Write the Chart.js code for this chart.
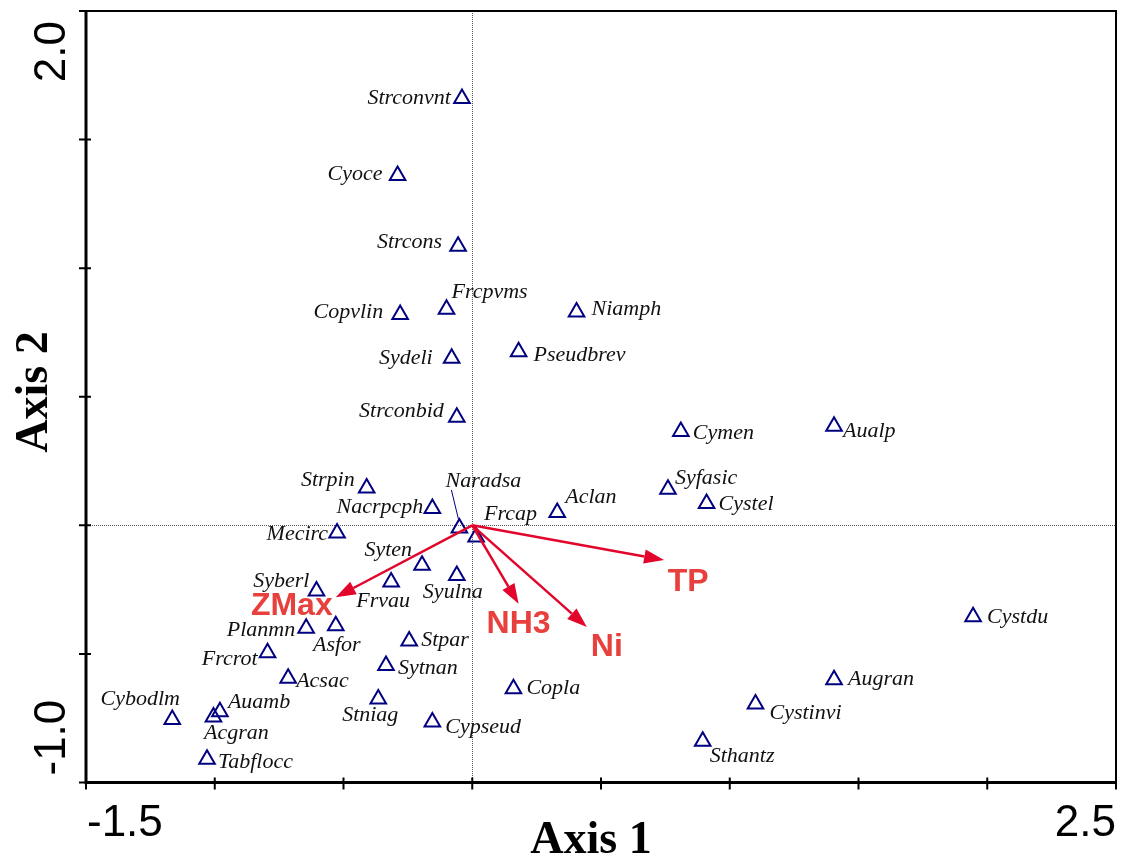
<!DOCTYPE html>
<html>
<head>
<meta charset="utf-8">
<script src="https://cdn.jsdelivr.net/npm/chart.js@4.4.0/dist/chart.umd.min.js"></script>
<style>
  html, body { margin: 0; padding: 0; background: #fff; }
</style>
</head>
<body>
<canvas id="cca" width="1127" height="860"></canvas>
<script>
// species scores
const species = ['Strconvnt', 'Cyoce', 'Strcons', 'Frcpvms', 'Copvlin', 'Niamph', 'Sydeli', 'Pseudbrev',
  'Strconbid', 'Cymen', 'Aualp', 'Syfasic', 'Cystel', 'Aclan', 'Strpin', 'Nacrpcph', 'Mecirc', 'Naradsa',
  'Frcap', 'Syten', 'Frvau', 'Syulna', 'Syberl', 'Planmn', 'Asfor', 'Stpar', 'Frcrot', 'Sytnan', 'Acsac',
  'Stniag', 'Cybodlm', 'Auamb', 'Acgran', 'Tabflocc', 'Cypseud', 'Copla', 'Cystdu', 'Augran', 'Cystinvi', 'Sthantz'];
const axis1 = [-0.04, -0.29, -0.055, -0.10, -0.28, 0.405, -0.08, 0.18,
  -0.06, 0.81, 1.405, 0.76, 0.91, 0.33, -0.41, -0.155, -0.525, -0.05,
  0.015, -0.195, -0.315, -0.06, -0.605, -0.645, -0.53, -0.245, -0.795, -0.335, -0.715,
  -0.365, -1.165, -0.98, -1.005, -1.03, -0.155, 0.16, 1.945, 1.405, 1.10, 0.895];
const axis2 = [1.66, 1.36, 1.085, 0.84, 0.82, 0.83, 0.65, 0.675,
  0.42, 0.365, 0.385, 0.14, 0.085, 0.05, 0.145, 0.065, -0.03, -0.01,
  -0.045, -0.155, -0.22, -0.195, -0.255, -0.40, -0.39, -0.45, -0.495, -0.545, -0.595,
  -0.675, -0.755, -0.725, -0.745, -0.91, -0.765, -0.635, -0.355, -0.60, -0.695, -0.84];

// environmental vectors
const envVars = ['ZMax', 'TP', 'NH3', 'Ni'];
const env1 = [-0.53, 0.745, 0.18, 0.445];
const env2 = [-0.28, -0.135, -0.305, -0.395];

const xTickLabels = ['-1.5', '2.5'];
const yTickLabels = ['2.0', '-1.0'];

// label placement next to each triangle: [align, dx, dy] in pixels
const labelPlace = [
  ['right', -11, 0], ['right', -15, -1], ['right', -16, -4], ['left', 5, -17], ['right', -17, -2],
  ['left', 15, -3], ['right', -19, 0], ['left', 15, 3], ['right', -13, -6], ['left', 12, 2],
  ['left', 9, 5], ['left', 7, -11], ['left', 12, 1], ['left', 8, -15], ['right', -12, -8],
  ['right', -9, -1], ['right', -9, 1], ['center', 24, -47], ['left', 8, -23], ['right', -10, -15],
  ['center', -8, 19], ['center', -4, 17], ['right', -7, -10], ['right', -11, 2], ['center', 1, 20],
  ['left', 12, -1], ['right', -10, 7], ['left', 12, 3], ['left', 8, 3], ['center', -8, 16],
  ['center', -32, -20], ['left', 8, -10], ['center', 23, 16], ['left', 11, 3], ['left', 13, 5],
  ['left', 13, 0], ['left', 14, 1], ['left', 14, 0], ['left', 14, 9], ['left', 7, 15]
];
const envLabelPlace = [[-44, 9], [24, 22], [0, 20], [20, 20]];

const ARROW = '#e2062c';
const ENV_TEXT = '#e8403d';

const ordination = {
  id: 'ordination',
  beforeDatasetsDraw(chart) {
    const { ctx, chartArea: a, scales: { x, y } } = chart;
    const x0 = Math.round(x.getPixelForValue(0)) + 0.5;
    const y0 = Math.round(y.getPixelForValue(0)) + 0.5;
    ctx.save();
    ctx.strokeStyle = '#555';
    ctx.lineWidth = 1;
    ctx.setLineDash([1, 1]);
    ctx.beginPath();
    ctx.moveTo(x0, a.top); ctx.lineTo(x0, a.bottom);
    ctx.moveTo(a.left, y0); ctx.lineTo(a.right, y0);
    ctx.stroke();
    ctx.restore();
  },
  afterDatasetsDraw(chart) {
    const { ctx, chartArea: a, scales: { x, y } } = chart;
    const pts = chart.getDatasetMeta(0).data;

    // species names
    ctx.save();
    ctx.fillStyle = '#111';
    ctx.font = 'italic 22px "Liberation Serif"';
    ctx.textBaseline = 'middle';
    pts.forEach((p, i) => {
      const [al, dx, dy] = labelPlace[i];
      ctx.textAlign = al;
      ctx.fillText(species[i], p.x + dx, p.y + dy);
    });
    // leader line for Naradsa
    const nr = pts[species.indexOf('Naradsa')];
    ctx.strokeStyle = '#000080';
    ctx.lineWidth = 1;
    ctx.beginPath();
    ctx.moveTo(nr.x - 8, nr.y - 38);
    ctx.lineTo(nr.x - 1, nr.y - 9);
    ctx.stroke();
    ctx.restore();

    // environmental arrows
    const ox = x.getPixelForValue(0), oy = y.getPixelForValue(0);
    ctx.save();
    envVars.forEach((name, i) => {
      const tx = x.getPixelForValue(env1[i]);
      const ty = y.getPixelForValue(env2[i]);
      const ang = Math.atan2(ty - oy, tx - ox);
      const head = 20, half = 7;
      const bx = tx - head * Math.cos(ang), by = ty - head * Math.sin(ang);
      ctx.strokeStyle = ARROW;
      ctx.fillStyle = ARROW;
      ctx.lineWidth = 2.5;
      ctx.beginPath();
      ctx.moveTo(ox, oy);
      ctx.lineTo(bx, by);
      ctx.stroke();
      ctx.beginPath();
      ctx.moveTo(tx, ty);
      ctx.lineTo(bx + half * Math.sin(ang), by - half * Math.cos(ang));
      ctx.lineTo(bx - half * Math.sin(ang), by + half * Math.cos(ang));
      ctx.closePath();
      ctx.fill();
      ctx.fillStyle = ENV_TEXT;
      ctx.font = 'bold 32px "Liberation Sans"';
      ctx.textAlign = 'center';
      ctx.textBaseline = 'middle';
      ctx.fillText(name, tx + envLabelPlace[i][0], ty + envLabelPlace[i][1]);
    });
    ctx.restore();

    // frame and tick marks
    ctx.save();
    ctx.strokeStyle = '#000';
    ctx.lineWidth = 2;
    ctx.beginPath();
    ctx.moveTo(a.left, a.top); ctx.lineTo(a.right, a.top); ctx.lineTo(a.right, a.bottom);
    ctx.stroke();
    ctx.lineWidth = 3;
    ctx.beginPath();
    ctx.moveTo(a.left, a.top); ctx.lineTo(a.left, a.bottom); ctx.lineTo(a.right, a.bottom);
    ctx.stroke();
    ctx.lineWidth = 2;
    ctx.beginPath();
    x.ticks.forEach(t => {
      const px = x.getPixelForValue(t.value);
      ctx.moveTo(px, a.bottom - 5); ctx.lineTo(px, a.bottom + 7);
    });
    y.ticks.forEach(t => {
      const py = y.getPixelForValue(t.value);
      ctx.moveTo(a.left - 7, py); ctx.lineTo(a.left + 5, py);
    });
    ctx.stroke();

    // tick labels
    ctx.fillStyle = '#000';
    ctx.font = '44px "Liberation Sans"';
    ctx.textBaseline = 'alphabetic';
    ctx.textAlign = 'left';
    ctx.fillText(xTickLabels[0], x.getPixelForValue(x.min) + 1, a.bottom + 53);
    ctx.textAlign = 'right';
    ctx.fillText(xTickLabels[1], x.getPixelForValue(x.max), a.bottom + 53);

    ctx.save();
    ctx.translate(65, y.getPixelForValue(y.max) + 10);
    ctx.rotate(-Math.PI / 2);
    ctx.textAlign = 'right';
    ctx.fillText(yTickLabels[0], 0, 0);
    ctx.restore();
    ctx.save();
    ctx.translate(65, y.getPixelForValue(y.min) - 7);
    ctx.rotate(-Math.PI / 2);
    ctx.textAlign = 'left';
    ctx.fillText(yTickLabels[1], 0, 0);
    ctx.restore();

    // axis titles
    ctx.font = 'bold 46px "Liberation Serif"';
    ctx.textAlign = 'center';
    ctx.textBaseline = 'alphabetic';
    ctx.fillText('Axis 1', (a.left + a.right) / 2 - 10, 853);
    ctx.save();
    ctx.translate(47, 392);
    ctx.rotate(-Math.PI / 2);
    ctx.fillText('Axis 2', 0, 0);
    ctx.restore();
    ctx.restore();
  }
};

new Chart(document.getElementById('cca'), {
  type: 'scatter',
  data: {
    datasets: [{
      label: 'species',
      data: axis1.map((v, i) => ({ x: v, y: axis2[i] })),
      pointStyle: 'triangle',
      pointRadius: 9,
      pointHoverRadius: 9,
      borderColor: '#000080',
      backgroundColor: 'rgba(0,0,0,0)',
      borderWidth: 2
    }]
  },
  options: {
    responsive: false,
    animation: false,
    events: [],
    layout: { padding: { left: 86, right: 10, top: 8.5, bottom: 77.5 } },
    plugins: { legend: { display: false }, tooltip: { enabled: false } },
    scales: {
      x: { type: 'linear', display: false, min: -1.5, max: 2.5, ticks: { stepSize: 0.5 } },
      y: { type: 'linear', display: false, min: -1.0, max: 2.0, ticks: { stepSize: 0.5 } }
    }
  },
  plugins: [ordination]
});
</script>
</body>
</html>
